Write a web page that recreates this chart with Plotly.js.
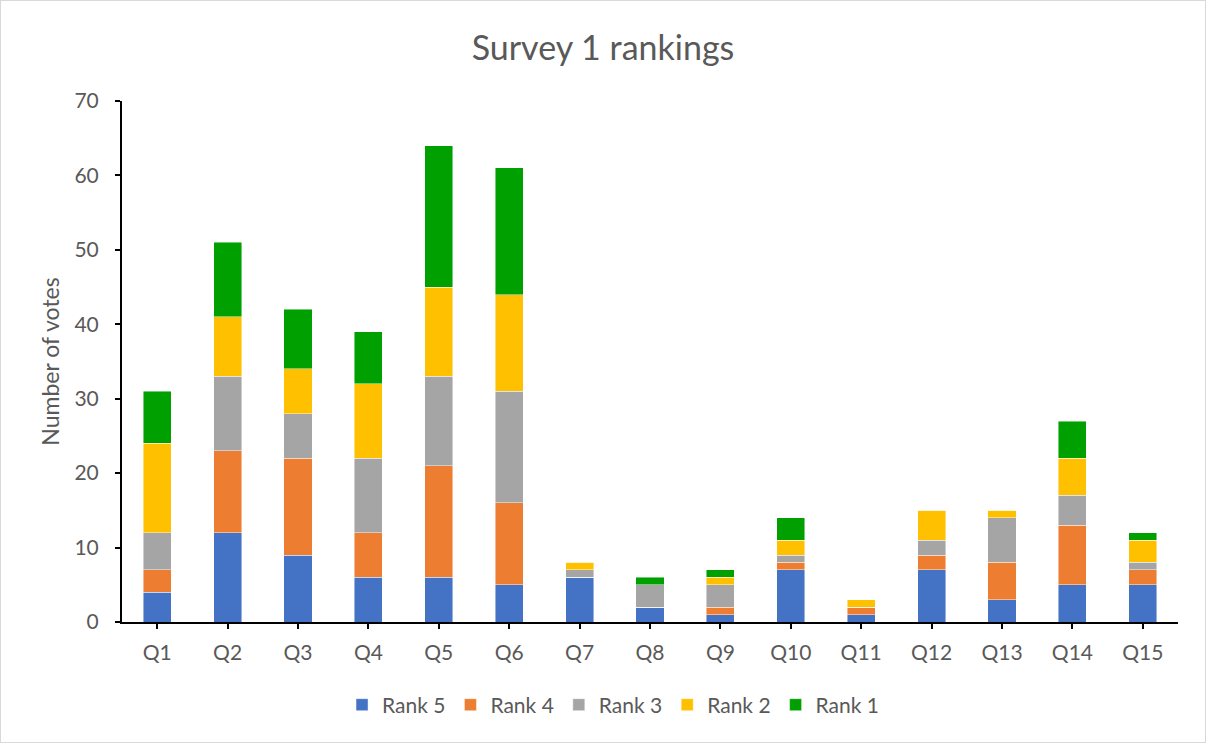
<!DOCTYPE html>
<html>
<head>
<meta charset="utf-8">
<script src="https://cdn.plot.ly/plotly-3.0.1.min.js"></script>
<style>
html,body{margin:0;padding:0;background:#fff;}
#chart{width:1206px;height:743px;box-sizing:border-box;border:1px solid #d9d9d9;}
</style>
</head>
<body>
<div id="chart"></div>
<script>
const categories = ["Q1","Q2","Q3","Q4","Q5","Q6","Q7","Q8","Q9","Q10","Q11","Q12","Q13","Q14","Q15"];
const rank5 = [4,12,9,6,6,5,6,2,1,7,1,7,3,5,5];
const rank4 = [3,11,13,6,15,11,0,0,1,1,1,2,5,8,2];
const rank3 = [5,10,6,10,12,15,1,3,3,1,0,2,6,4,1];
const rank2 = [12,8,6,10,12,13,1,0,1,2,1,4,1,5,3];
const rank1 = [7,10,8,7,19,17,0,1,1,3,0,0,0,5,1];
const seriesNames = ["Rank 5","Rank 4","Rank 3","Rank 2","Rank 1"];
const seriesColors = ["#4472C4","#ED7D31","#A5A5A5","#FFC000","#00A000"];
const seriesValues = [rank5, rank4, rank3, rank2, rank1];

const font = "Lato, 'Open Sans', sans-serif";
const textColor = "#595959";

const traces = seriesValues.map((vals, i) => ({
  type: "bar",
  name: seriesNames[i],
  x: categories,
  y: vals,
  marker: {color: seriesColors[i], line: {color: "rgba(255,255,255,0.6)", width: 0.75}},
  hoverinfo: "x+y+name"
}));

const layout = {
  barmode: "stack",
  bargap: 0.6,
  width: 1204,
  height: 741,
  margin: {l: 121, r: 27, t: 100, b: 120},
  paper_bgcolor: "#fff",
  plot_bgcolor: "#fff",
  font: {family: font, color: textColor, size: 21},
  title: {text: "Survey 1 rankings", font: {family: font, size: 34, color: textColor}, x: 0.5, xanchor: "center", y: 0.937, yanchor: "middle"},
  xaxis: {
    type: "category",
    showline: true, linecolor: "#000", linewidth: 2,
    ticks: "outside", ticklen: 5, tickcolor: "#000", tickwidth: 2,
    showgrid: false, zeroline: false,
    ticklabelstandoff: 6,
    tickfont: {family: font, size: 21, color: textColor}
  },
  yaxis: {
    range: [0, 70], dtick: 10,
    showline: true, linecolor: "#000", linewidth: 2,
    ticks: "outside", ticklen: 5, tickcolor: "#000", tickwidth: 2,
    showgrid: false, zeroline: false,
    ticklabelstandoff: 12,
    tickfont: {family: font, size: 21, color: textColor},
    title: {text: "Number of votes", font: {family: font, size: 23, color: textColor}, standoff: 8}
  },
  legend: {
    orientation: "h", x: 0.465, xanchor: "center", y: -0.12, yanchor: "top",
    traceorder: "normal",
    itemwidth: 30,
    font: {family: font, size: 21, color: textColor}
  },
  showlegend: true
};

Plotly.newPlot("chart", traces, layout, {displayModeBar: false});
</script>
</body>
</html>
